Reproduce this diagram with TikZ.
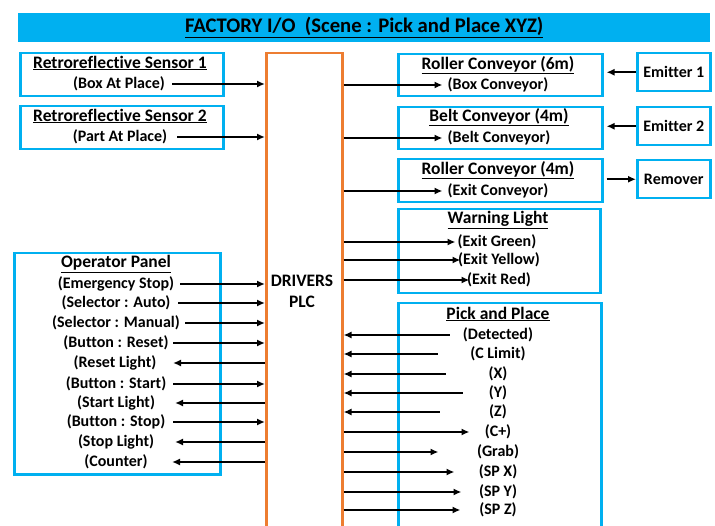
\documentclass[tikz,border=0pt]{standalone}
\usepackage{fontspec}
\setmainfont{Carlito}[Ligatures={NoCommon}]
\usetikzlibrary{arrows.meta}
\definecolor{cy}{HTML}{00B0F0}
\definecolor{org}{HTML}{ED7D31}
\begin{document}
\begin{tikzpicture}[x=1pt,y=-1pt,
  box/.style={draw=cy,line width=2.5pt,anchor=north west,inner sep=0pt},
  lbl/.style={font=\bfseries\fontsize{16}{19}\selectfont,inner sep=2pt},
  ttl/.style={font=\bfseries\fontsize{17.5}{20}\selectfont,inner sep=2pt},
  con/.style={line width=1.7pt,-{Latex[length=8pt,width=7pt]}},
  rcon/.style={line width=1.7pt,{Latex[length=8pt,width=7pt]}-},
]
\useasboundingbox (0,0) rectangle (715,526);
\clip (0,0) rectangle (715,526);
% title
\node[fill=cy,anchor=north west,minimum width=692pt,minimum height=29pt,inner sep=0pt,
  font=\bfseries\fontsize{20.7}{24}\selectfont] (title) at (18,13)
  {\underline{FACTORY I/O\ \ (Scene : Pick and Place XYZ)}};
% PLC
\node[draw=org,line width=2.5pt,anchor=north west,minimum width=76pt,minimum height=500pt,inner sep=0pt] (plc) at (265,52) {};
\node[ttl] (drv) at (302,281) {DRIVERS};
\node[ttl] (plct) at (302,302) {PLC};
% sensors
\node[box,minimum width=203pt,minimum height=43pt] (s1) at (19,52) {};
\node[ttl] (s1t) at (120,63) {\underline{Retroreflective Sensor 1}};
\node[lbl] (s1s) at (119,84) {(Box At Place)};
\node[box,minimum width=203pt,minimum height=43pt] (s2) at (19,105) {};
\node[ttl] (s2t) at (120,116) {\underline{Retroreflective Sensor 2}};
\node[lbl] (s2s) at (120,137) {(Part At Place)};
\draw[rcon] (plc.west |- s1s) -- ++(-93,0);
\draw[rcon] (plc.west |- s2s) -- ++(-88,0);
% operator panel
\node[box,minimum width=206pt,minimum height=221pt] (op) at (13,252) {};
\node[ttl] (opt) at (116,264) {\underline{Operator Panel}};
\node[lbl] (o1) at (116,284) {(Emergency Stop)};
\node[lbl] (o2) at (116,303) {(Selector : Auto)};
\node[lbl] (o3) at (116,323) {(Selector : Manual)};
\node[lbl] (o4) at (116,343) {(Button : Reset)};
\node[lbl] (o5) at (115,363) {(Reset Light)};
\node[lbl] (o6) at (116,384) {(Button : Start)};
\node[lbl] (o7) at (116,403) {(Start Light)};
\node[lbl] (o8) at (116,422) {(Button : Stop)};
\node[lbl] (o9) at (116,442) {(Stop Light)};
\node[lbl] (o10) at (116,462) {(Counter)};
\draw[rcon] (plc.west |- o1) -- ++(-85,0);
\draw[rcon] (plc.west |- o2) -- ++(-87,0);
\draw[rcon] (plc.west |- o3) -- ++(-80,0);
\draw[rcon] (plc.west |- o4) -- ++(-92,0);
\draw[con] (plc.west |- o5) -- ++(-92,0);
\draw[rcon] (plc.west |- o6) -- ++(-92,0);
\draw[con] (plc.west |- o7) -- ++(-90,0);
\draw[rcon] (plc.west |- o8) -- ++(-92,0);
\draw[con] (plc.west |- o9) -- ++(-90,0);
\draw[con] (plc.west |- o10) -- ++(-93,0);
% conveyors
\node[box,minimum width=204pt,minimum height=42pt] (rc6) at (397,53) {};
\node[ttl] (rc6t) at (498,65) {\underline{Roller Conveyor (6m)}};
\node[lbl] (rc6s) at (498,85) {(Box Conveyor)};
\node[box,minimum width=204pt,minimum height=42pt] (bc) at (397,106) {};
\node[ttl] (bct) at (499,117) {\underline{Belt Conveyor (4m)}};
\node[lbl] (bcs) at (499,138) {(Belt Conveyor)};
\node[box,minimum width=204pt,minimum height=43pt] (rc4) at (397,158) {};
\node[ttl] (rc4t) at (498,170) {\underline{Roller Conveyor (4m)}};
\node[lbl] (rc4s) at (498,191) {(Exit Conveyor)};
\draw[con] (plc.east |- rc6s) -- ++(99,0);
\draw[con] (plc.east |- bcs) -- ++(99,0);
\draw[con] (plc.east |- rc4s) -- ++(99,0);
% emitters
\node[box,minimum width=73pt,minimum height=38pt,lbl] (e1) at (636,52) {Emitter 1};
\node[box,minimum width=73pt,minimum height=38pt,lbl] (e2) at (636,106) {Emitter 2};
\node[box,minimum width=73pt,minimum height=38pt,lbl] (rm) at (636,159) {Remover};
\draw[con,shorten >=3pt] (e1.west) -- (rc6.east |- e1.west);
\draw[con,shorten >=3pt] (e2.west) -- (bc.east |- e2.west);
\draw[con,shorten <=3pt] (rc4.east |- rm.west) -- (rm.west);
% warning light
\node[box,minimum width=202pt,minimum height=84pt] (wl) at (397,208) {};
\node[ttl] (wlt) at (498,220) {\underline{Warning Light}};
\node[lbl] (w1) at (497,242) {(Exit Green)};
\node[lbl] (w2) at (499,260) {(Exit Yellow)};
\node[lbl] (w3) at (499,280) {(Exit Red)};
\draw[con] (plc.east |- w1) -- ++(112,0);
\draw[con] (plc.east |- w2) -- ++(117,0);
\draw[con] (plc.east |- w3) -- ++(126,0);
% pick and place
\node[box,minimum width=203pt,minimum height=250pt] (pp) at (397,302) {};
\node[ttl] (ppt) at (498,314) {\underline{Pick and Place}};
\node[lbl] (p1) at (498,335) {(Detected)};
\node[lbl] (p2) at (498,354) {(C Limit)};
\node[lbl] (p3) at (498,374) {(X)};
\node[lbl] (p4) at (498,393) {(Y)};
\node[lbl] (p5) at (498,412) {(Z)};
\node[lbl] (p6) at (498,432) {(C+)};
\node[lbl] (p7) at (498,452) {(Grab)};
\node[lbl] (p8) at (498,472) {(SP X)};
\node[lbl] (p9) at (498,492) {(SP Y)};
\node[lbl] (p10) at (498,510) {(SP Z)};
\draw[rcon] (plc.east |- p1) -- ++(106,0);
\draw[rcon] (plc.east |- p2) -- ++(94,0);
\draw[rcon] (plc.east |- p3) -- ++(102,0);
\draw[rcon] (plc.east |- p4) -- ++(119,0);
\draw[rcon] (plc.east |- p5) -- ++(96,0);
\draw[con] (plc.east |- p6) -- ++(126,0);
\draw[con] (plc.east |- p7) -- ++(95,0);
\draw[con] (plc.east |- p8) -- ++(111,0);
\draw[con] (plc.east |- p9) -- ++(118,0);
\draw[con] (plc.east |- p10) -- ++(117,0);
\end{tikzpicture}
\end{document}
